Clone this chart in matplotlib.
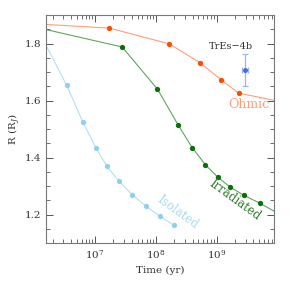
import numpy as np
import matplotlib
matplotlib.use("Agg")
import matplotlib.pyplot as plt

plt.rcParams['font.family'] = ['DejaVu Serif']
plt.rcParams['mathtext.fontset'] = 'dejavuserif'

# Ohmic heating track (line extends past the markers)
ohm_t = [1.56e6, 1.72e7, 1.65e8, 5.27e8, 1.19e9, 2.28e9, 8.7e9]
ohm_r = [1.867, 1.854, 1.799, 1.733, 1.672, 1.626, 1.601]

# Irradiated track
irr_t = [1.56e6, 2.78e7, 1.06e8, 2.32e8, 3.94e8, 6.52e8, 1.04e9, 1.62e9, 2.75e9, 5.18e9, 8.7e9]
irr_r = [1.849, 1.788, 1.640, 1.514, 1.435, 1.374, 1.331, 1.298, 1.268, 1.239, 1.212]

# Isolated track
iso_t = [1.56e6, 3.42e6, 6.28e6, 1.03e7, 1.57e7, 2.48e7, 4.06e7, 6.82e7, 1.17e8, 1.99e8]
iso_r = [1.794, 1.653, 1.525, 1.434, 1.369, 1.316, 1.270, 1.229, 1.194, 1.162]

# TrEs-4b measurement
tres_t = 2.9e9
tres_r = 1.706
tres_rerr = 0.056
tres_terr = 0.3e9

fig = plt.figure(figsize=(2.99, 2.89), dpi=100)
ax = fig.add_axes([0.1538, 0.159, 0.7625, 0.789])

ax.plot(ohm_t, ohm_r, color='#ff9f7a', lw=0.8, zorder=1)
ax.plot(ohm_t[1:-1], ohm_r[1:-1], 'o', color='#ff4a00', ms=3.8, mec='none', zorder=2)

ax.plot(irr_t, irr_r, color='#5fa55f', lw=0.8, zorder=1)
ax.plot(irr_t[1:-1], irr_r[1:-1], 'o', color='#0a6e0a', ms=3.8, mec='none', zorder=2)

ax.plot(iso_t, iso_r, color='#b3e0f2', lw=0.8, zorder=1)
ax.plot(iso_t[1:], iso_r[1:], 'o', color='#8fd0ee', ms=3.8, mec='none', zorder=2)

ax.errorbar(tres_t, tres_r, yerr=tres_rerr, xerr=tres_terr, fmt='o', color='#3f6fe0', ms=3.6,
            ecolor='#9fb4f0', elinewidth=0.9, capsize=2, capthick=0.9, mec='none')
ax.text(1.73e9, 1.79, 'TrEs\u22124b', ha='center', va='center', fontsize=7, color='#333333')

ax.text(3.3e9, 1.585, 'Ohmic', ha='center', va='center', fontsize=9, color='#ff9f7a')
ax.text(2.0e9, 1.25, 'Irradiated', ha='center', va='center', fontsize=8.5,
        color='#2e7d2e', rotation=-36, rotation_mode='anchor')
ax.text(2.3e8, 1.208, 'Isolated', ha='center', va='center', fontsize=8.5,
        color='#a8dcf2', rotation=-36, rotation_mode='anchor')

ax.set_xscale('log')
ax.set_xlim(1.56e6, 8.7e9)
ax.set_ylim(1.1, 1.9)
ax.set_yticks([1.2, 1.4, 1.6, 1.8])
ax.set_yticks(np.arange(1.1, 1.901, 0.05), minor=True)
ax.set_xticks([1e7, 1e8, 1e9])
ax.tick_params(which='both', direction='in', top=True, right=True, labelsize=7.5,
               color='#555555', labelcolor='#333333')
ax.tick_params(which='major', length=5, width=0.7)
ax.tick_params(which='minor', length=3, width=0.6)
for s in ax.spines.values():
    s.set_color('#777777')
    s.set_linewidth(0.8)

ax.set_xlabel('Time (yr)', fontsize=7.5, color='#333333')
ax.set_ylabel('R (R$_J$)', fontsize=7.5, color='#333333', labelpad=1)

fig.savefig('out.png', dpi=100)
